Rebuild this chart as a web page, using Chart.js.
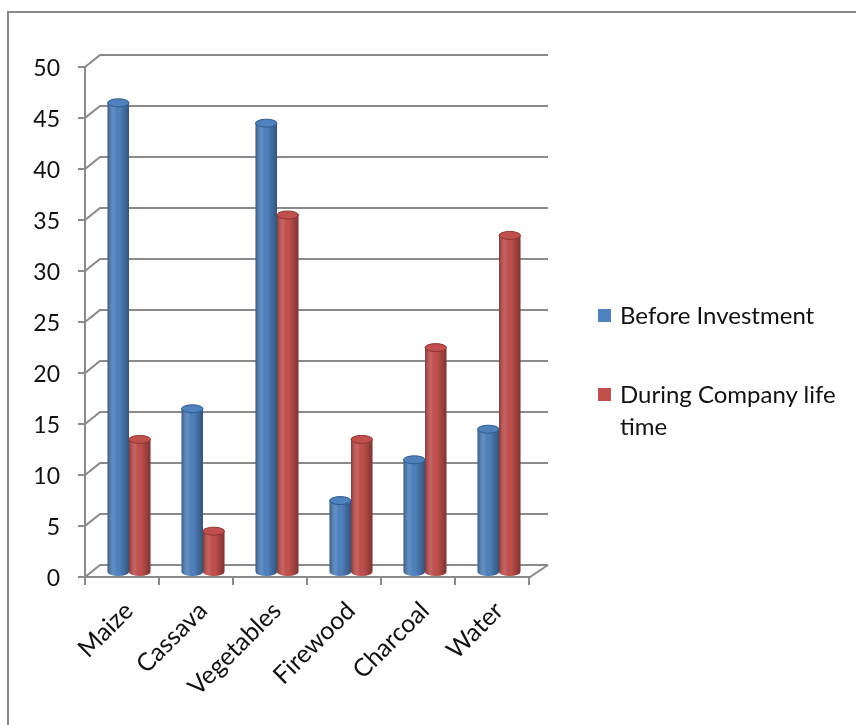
<!DOCTYPE html>
<html>
<head>
<meta charset="utf-8">
<script src="https://cdn.jsdelivr.net/npm/chart.js@4"></script>
<style>
	html, body { margin: 0; padding: 0; background: #fff; }
	#wrap { position: relative; width: 856px; height: 725px; overflow: hidden; }
	#frame { position: absolute; left: 7px; top: 11px; width: 900px; height: 800px; border: 2px solid #898989; box-sizing: border-box; }
	#chart { position: absolute; left: 0; top: 0; }
	#legend { position: absolute; left: 598px; top: 299px; width: 245px; font-family: Lato, sans-serif; font-size: 24px; color: #111; }
	.item { position: relative; padding-left: 22px; line-height: 32px; margin-bottom: 47px; }
	.item span { position: absolute; left: 0; top: 10px; width: 13px; height: 13px; }
</style>
</head>
<body>
<div id="wrap">
	<div id="frame"></div>
	<canvas id="chart" width="856" height="725"></canvas>
	<div id="legend"></div>
</div>
<script>
const categories = ['Maize', 'Cassava', 'Vegetables', 'Firewood', 'Charcoal', 'Water'];
const beforeInvestment = [46, 16, 44, 7, 11, 14];
const duringCompany = [13, 4, 35, 13, 22, 33];
const seriesNames = ['Before Investment', 'During Company life time'];
const seriesColors = ['#4F81BD', '#C0504D'];
const edgeColors = ['#2F5A8F', '#8E3431'];

const GRID = '#8a8a8a';

// back wall, floor and front axis of the 3d frame
const frame3d = {
	id: 'frame3d',
	beforeDatasetsDraw(chart) {
		const ctx = chart.ctx;
		const y = chart.scales.y;
		const L = chart.chartArea.left, R = chart.chartArea.right;
		const frontL = L - 7, backL = L + 8, backR = R + 12, frontR = R - 6;
		ctx.save();
		ctx.strokeStyle = GRID;
		ctx.lineWidth = 2;
		y.ticks.forEach(t => {
			const py = y.getPixelForValue(t.value);
			ctx.beginPath();
			ctx.moveTo(frontL - 7, py + 5);
			ctx.lineTo(frontL, py + 5);
			ctx.lineTo(backL, py - 7);
			ctx.lineTo(backR, py - 7);
			ctx.stroke();
		});
		const y0 = y.getPixelForValue(0), y50 = y.getPixelForValue(50);
		ctx.beginPath();
		ctx.moveTo(frontL, y50 + 5);
		ctx.lineTo(frontL, y0 + 5);
		ctx.lineTo(frontR, y0 + 5);
		ctx.lineTo(backR, y0 - 7);
		ctx.stroke();
		const step = (R - L) / categories.length;
		for (let i = 0; i <= categories.length; i++) {
			const px = frontL + step * i;
			ctx.beginPath();
			ctx.moveTo(px, y0 + 5);
			ctx.lineTo(px, y0 + 13);
			ctx.stroke();
		}
		ctx.restore();
	}
};

// shade the bars so they read as cylinders
const cylinders = {
	id: 'cylinders',
	afterDatasetsDraw(chart) {
		const ctx = chart.ctx;
		chart.data.datasets.forEach((ds, di) => {
			chart.getDatasetMeta(di).data.forEach(bar => {
				const left = bar.x - bar.width / 2, right = bar.x + bar.width / 2;
				const rx = bar.width / 2, ry = 4;
				const g = ctx.createLinearGradient(left, 0, right, 0);
				g.addColorStop(0, 'rgba(0,0,0,0.30)');
				g.addColorStop(0.3, 'rgba(255,255,255,0.10)');
				g.addColorStop(0.55, 'rgba(0,0,0,0)');
				g.addColorStop(1, 'rgba(0,0,0,0.35)');
				ctx.save();
				// rounded foot
				ctx.fillStyle = seriesColors[di];
				ctx.beginPath();
				ctx.ellipse(bar.x, bar.base, rx, ry, 0, 0, Math.PI);
				ctx.fill();
				ctx.fillStyle = g;
				ctx.fillRect(left, bar.y, bar.width, bar.base - bar.y);
				ctx.beginPath();
				ctx.ellipse(bar.x, bar.base, rx, ry, 0, 0, Math.PI);
				ctx.fill();
				// top cap
				ctx.fillStyle = seriesColors[di];
				ctx.strokeStyle = edgeColors[di];
				ctx.lineWidth = 1;
				ctx.beginPath();
				ctx.ellipse(bar.x, bar.y, rx, ry, 0, 0, Math.PI * 2);
				ctx.fill();
				ctx.stroke();
				ctx.restore();
			});
		});
	}
};

new Chart(document.getElementById('chart'), {
	type: 'bar',
	data: {
		labels: categories,
		datasets: [
			{ label: seriesNames[0], data: beforeInvestment, backgroundColor: seriesColors[0] },
			{ label: seriesNames[1], data: duringCompany, backgroundColor: seriesColors[1] },
		],
	},
	options: {
		responsive: false,
		animation: false,
		devicePixelRatio: 1,
		layout: { padding: { left: 30, top: 62, right: 320, bottom: 0 } },
		datasets: { bar: { categoryPercentage: 0.58, barPercentage: 1, borderWidth: 0 } },
		plugins: {
			legend: { display: false },
			tooltip: { enabled: false },
		},
		scales: {
			x: {
				grid: { display: false, drawTicks: false },
				border: { display: false },
				ticks: {
					maxRotation: 45,
					minRotation: 45,
					padding: 24,
					color: '#111',
					font: { family: 'Lato', size: 25 },
				},
				afterFit: (s) => { s.height = 153; },
			},
			y: {
				min: 0,
				max: 50,
				grid: { display: false, drawTicks: false },
				border: { display: false },
				ticks: {
					stepSize: 5,
					padding: 32,
					labelOffset: 7,
					color: '#111',
					font: { family: 'Lato', size: 23 },
				},
				afterFit: (s) => { s.width = 62; },
			},
		},
	},
	plugins: [frame3d, cylinders],
});

// legend with wrapping labels
const legend = document.getElementById('legend');
seriesNames.forEach((name, i) => {
	const item = document.createElement('div');
	item.className = 'item';
	item.innerHTML = '<span style="background:' + seriesColors[i] + '"></span>' + name;
	legend.appendChild(item);
});
</script>
</body>
</html>
